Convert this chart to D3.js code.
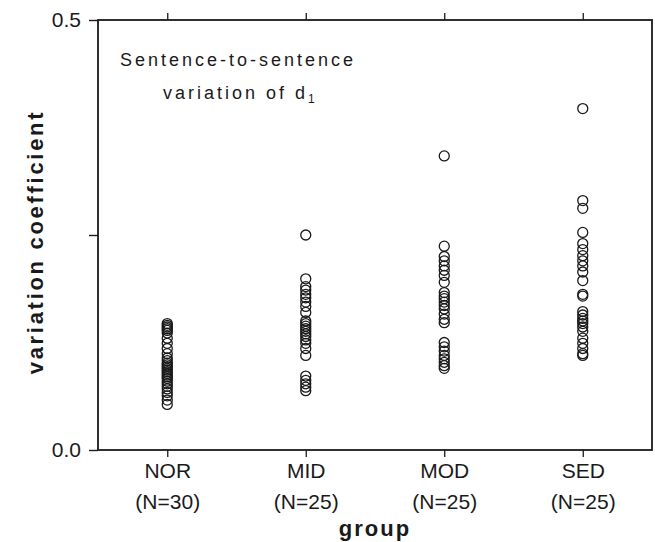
<!DOCTYPE html>
<html><head><meta charset="utf-8">
<script src="https://cdn.jsdelivr.net/npm/d3@7"></script>
<style>body{margin:0;background:#fff}svg{display:block}</style>
</head><body>
<svg id="c" width="655" height="542"></svg>
<script>
const categories = ["NOR", "MID", "MOD", "SED"];
const groupSizes = ["(N=30)", "(N=25)", "(N=25)", "(N=25)"];
const yTickValues = [0, 0.25, 0.5];
const yTickLabels = ["0.0", "", "0.5"];
const NOR = [0.147,0.145,0.143,0.141,0.139,0.136,0.130,0.124,0.118,0.112,0.107,0.104,0.101,0.099,0.097,0.095,0.093,0.091,0.089,0.087,0.085,0.083,0.080,0.077,0.074,0.071,0.067,0.063,0.058,0.053];
const MID = [0.250,0.199,0.190,0.186,0.181,0.177,0.172,0.167,0.160,0.150,0.147,0.144,0.141,0.138,0.135,0.132,0.128,0.124,0.118,0.110,0.086,0.081,0.077,0.073,0.069];
const MOD = [0.342,0.237,0.225,0.220,0.214,0.209,0.203,0.195,0.183,0.179,0.176,0.172,0.168,0.164,0.158,0.152,0.148,0.125,0.120,0.115,0.110,0.106,0.102,0.098,0.095];
const SED = [0.397,0.290,0.281,0.253,0.240,0.233,0.226,0.220,0.214,0.207,0.197,0.181,0.179,0.161,0.157,0.153,0.150,0.147,0.143,0.138,0.130,0.124,0.118,0.112,0.110];
const seriesValues = [NOR, MID, MOD, SED];

const svg = d3.select("#c");
const L = 98, R = 652, T = 20, B = 450;
const x = d3.scalePoint().domain(categories).range([L, R]).padding(0.5);
const y = d3.scaleLinear().domain([0, 0.5]).range([B, T]);
const font = "Liberation Sans, Arial, sans-serif";
const ink = "#1a1a1a";

// frame
svg.append("rect").attr("x", L).attr("y", T).attr("width", R - L).attr("height", B - T)
  .attr("fill", "none").attr("stroke", ink).attr("stroke-width", 1.8);

// left axis
const yAxis = svg.append("g").attr("transform", `translate(${L},0)`)
  .call(d3.axisLeft(y).tickValues(yTickValues).tickSize(9).tickPadding(8)
    .tickFormat((d, i) => yTickLabels[i]));
yAxis.select(".domain").remove();
yAxis.selectAll("line").attr("stroke", ink).attr("stroke-width", 1.4);
yAxis.selectAll("text").attr("font-family", font).attr("font-size", 21).attr("fill", ink);

// bottom axis
const xAxis = svg.append("g").attr("transform", `translate(0,${B})`)
  .call(d3.axisBottom(x).tickSize(7).tickPadding(5));
xAxis.select(".domain").remove();
xAxis.selectAll("line").attr("stroke", ink).attr("stroke-width", 1.3);
xAxis.selectAll("text").attr("font-family", font).attr("font-size", 21).attr("fill", ink)
  .attr("dy", "0.76em")
  .each(function(d, i) {
    const t = d3.select(this);
    t.text(null);
    t.append("tspan").attr("x", 0).text(d);
    t.append("tspan").attr("x", 0).attr("dy", 31).text(groupSizes[i]);
  });

// top axis (ticks only)
const tAxis = svg.append("g").attr("transform", `translate(0,${T})`)
  .call(d3.axisTop(x).tickSize(7).tickFormat(""));
tAxis.select(".domain").remove();
tAxis.selectAll("line").attr("stroke", ink).attr("stroke-width", 1.3);

// points
categories.forEach((c, i) => {
  svg.append("g").selectAll("circle").data(seriesValues[i]).join("circle")
    .attr("cx", x(c)).attr("cy", d => y(d)).attr("r", 5)
    .attr("fill", "none").attr("stroke", ink).attr("stroke-width", 1.3);
});

// annotation
svg.append("text").attr("x", 120).attr("y", 66).attr("font-family", font)
  .attr("font-size", 18).attr("letter-spacing", 3).attr("fill", ink).text("Sentence-to-sentence");
const t2 = svg.append("text").attr("x", 163).attr("y", 99).attr("font-family", font)
  .attr("font-size", 18).attr("letter-spacing", 3).attr("fill", ink);
t2.append("tspan").text("variation of d");
t2.append("tspan").attr("font-size", 12).attr("dy", 4).text("1");

// axis titles
svg.append("text").attr("transform", `translate(43,${(T + B) / 2 + 7}) rotate(-90)`)
  .attr("text-anchor", "middle").attr("font-family", font).attr("font-size", 22)
  .attr("font-weight", "bold").attr("letter-spacing", 2.7).attr("fill", ink).text("variation coefficient");
svg.append("text").attr("x", (L + R) / 2).attr("y", 536).attr("text-anchor", "middle")
  .attr("font-family", font).attr("font-size", 22).attr("font-weight", "bold")
  .attr("letter-spacing", 2).attr("fill", ink).text("group");
</script>
</body></html>
